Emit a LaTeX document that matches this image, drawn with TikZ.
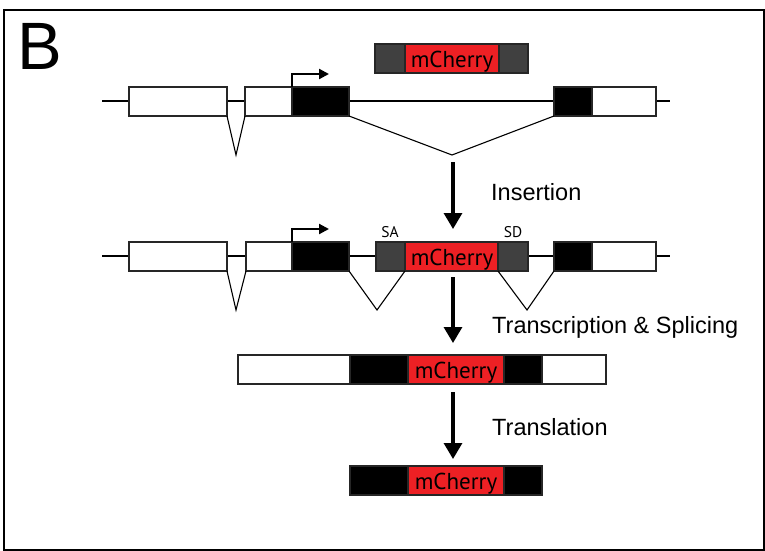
\documentclass[tikz,border=0pt]{standalone}
\usepackage{fontspec}
\setmainfont{Liberation Sans}
\newfontfamily\myr{PT Sans}
\usetikzlibrary{arrows.meta}
\definecolor{mred}{RGB}{237,32,36}
\definecolor{mgray}{RGB}{64,64,64}
\begin{document}
\begin{tikzpicture}[x=1pt,y=-1pt,
  seg/.style={draw=black!85, line width=1.1pt, inner sep=0pt, outer sep=0pt, anchor=north west, minimum height=29pt},
  wex/.style={seg, fill=white},
  bex/.style={seg, fill=black},
  gex/.style={seg, fill=mgray},
  rex/.style={seg, fill=mred},
  dna/.style={line width=2.4pt},
  intr/.style={line width=1.1pt},
  prom/.style={line width=2.2pt, -{Triangle[length=10pt,width=10pt]}},
  bigarr/.style={line width=3.2pt, -{Triangle[length=16pt,width=18pt]}},
  mtxt/.style={anchor=base, inner sep=0pt, font=\myr\fontsize{23}{23}\selectfont},
  stxt/.style={anchor=base, inner sep=0pt, font=\myr\fontsize{15.5}{15.5}\selectfont},
  lbl/.style={anchor=base west, inner sep=0pt, font=\fontsize{23.5}{23.5}\selectfont}]
\useasboundingbox (0,0) rectangle (765,551);
\draw[line width=2pt] (4,10) rectangle (764,550);
\node[anchor=base west, inner sep=0pt, font=\fontsize{67}{67}\selectfont] (B) at (17,70) {B};

% ---------- row 1 ----------
\coordinate (l1s) at (102,101);
\coordinate (l1e) at (670,101);
\draw[dna] (l1s) -- (l1e);
\node[wex, minimum width=98pt] (e1a) at (129,87) {};
\node[wex, minimum width=47pt] (e2a) at (245,87) {};
\node[bex, minimum width=57pt] (e2ab) at (292,87) {};
\node[bex, minimum width=38pt] (e3ab) at (554,87) {};
\node[wex, minimum width=64pt] (e3a) at (592,87) {};
\coordinate (v1a) at (236,155);
\coordinate (v2a) at (452,155);
\draw[intr] (e1a.south east) -- (v1a) -- (e2a.south west);
\draw[intr] (e2ab.south east) -- (v2a) -- (e3ab.south west);
\draw[prom] (e2ab.north west) -- ++(0,-13) -- ++(37,0);
% cassette
\node[gex, minimum width=30pt] (g1) at (375,44) {};
\node[rex, minimum width=94pt] (r1) at (405,44) {};
\node[gex, minimum width=29pt] (g2) at (499,44) {};
\node[mtxt] (t1) at (452,67) {mCherry};

% arrow 1
\coordinate (a1s) at (453,162);
\coordinate (a1e) at (453,229);
\draw[bigarr] (a1s) -- (a1e);
\node[lbl] (ins) at (491,200) {Insertion};

% ---------- row 2 ----------
\coordinate (l2s) at (102,256);
\coordinate (l2e) at (670,256);
\draw[dna] (l2s) -- (l2e);
\node[wex, minimum width=98pt] (e1b) at (129,242) {};
\node[wex, minimum width=46pt] (e2b) at (246,242) {};
\node[bex, minimum width=57pt] (e2bb) at (292,242) {};
\node[gex, minimum width=29pt] (sa) at (376,242) {};
\node[rex, minimum width=93pt] (r2) at (405,242) {};
\node[gex, minimum width=30pt] (sd) at (498,242) {};
\node[bex, minimum width=38pt] (e3bb) at (554,242) {};
\node[wex, minimum width=64pt] (e3b) at (592,242) {};
\node[mtxt] (t2) at (452,265) {mCherry};
\node[stxt] (salbl) at (390,237) {SA};
\node[stxt] (sdlbl) at (513,237) {SD};
\coordinate (v1b) at (236,310);
\coordinate (v2b) at (377,310);
\coordinate (v3b) at (527,310);
\draw[intr] (e1b.south east) -- (v1b) -- (e2b.south west);
\draw[intr] (e2bb.south east) -- (v2b) -- (r2.south west);
\draw[intr] (sd.south west) -- (v3b) -- (e3bb.south west);
\draw[prom] (e2bb.north west) -- ++(0,-13) -- ++(37,0);

% arrow 2
\coordinate (a2s) at (453,277);
\coordinate (a2e) at (453,343);
\draw[bigarr] (a2s) -- (a2e);
\node[lbl] (trs) at (492,333) {Transcription \& Splicing};

% ---------- mRNA ----------
\node[wex, minimum width=112pt] (m1) at (238,355) {};
\node[bex, minimum width=58pt] (m2) at (350,355) {};
\node[rex, minimum width=96pt] (m3) at (408,355) {};
\node[bex, minimum width=38pt] (m4) at (504,355) {};
\node[wex, minimum width=64pt] (m5) at (542,355) {};
\node[mtxt] (t3) at (456,378) {mCherry};

% arrow 3
\coordinate (a3s) at (453,392);
\coordinate (a3e) at (453,459);
\draw[bigarr] (a3s) -- (a3e);
\node[lbl] (trl) at (492,435) {Translation};

% ---------- protein ----------
\node[bex, minimum width=58pt] (p1) at (350,466) {};
\node[rex, minimum width=96pt] (p2) at (408,466) {};
\node[bex, minimum width=38pt] (p3) at (504,466) {};
\node[mtxt] (t4) at (456,489) {mCherry};
\end{tikzpicture}
\end{document}
